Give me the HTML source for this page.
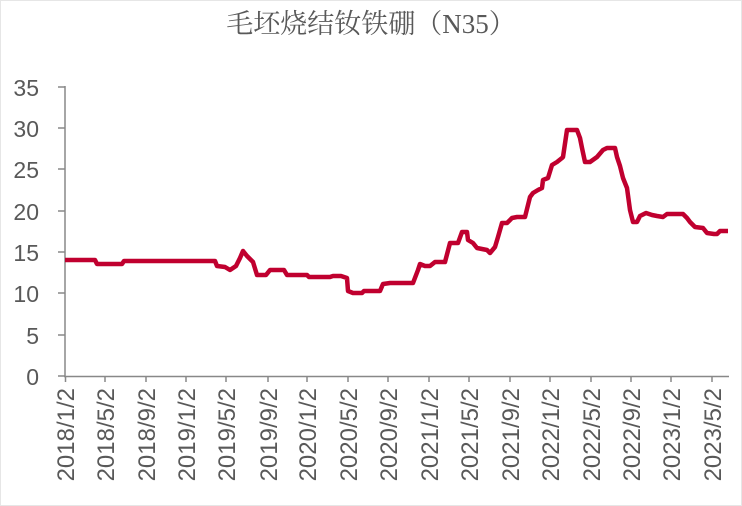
<!DOCTYPE html>
<html><head><meta charset="utf-8"><style>
html,body{margin:0;padding:0;background:#fff;}
svg{display:block;}
</style></head><body>
<svg width="742" height="506" xmlns="http://www.w3.org/2000/svg">
<rect x="0.5" y="0.5" width="741" height="505" fill="#fff" stroke="#e6e6e6"/>
<text x="371" y="33" text-anchor="middle" font-family="'Liberation Serif','Noto Serif CJK SC',serif" font-size="27" fill="#595959">毛坯烧结钕铁硼（N35）</text>
<g stroke="#888" stroke-width="1.5" fill="none">
<line x1="65" y1="86" x2="65" y2="377"/>
<line x1="64" y1="376.5" x2="729" y2="376.5"/>
<path d="M58 87H65M58 128H65M58 169H65M58 211H65M58 252H65M58 293H65M58 335H65M58 376H65"/>
<path d="M65.5 376v6M105 376v6M146 376v6M186 376v6M226 376v6M268 376v6M307 376v6M348 376v6M388 376v6M429 376v6M469 376v6M510 376v6M550 376v6M591 376v6M631 376v6M671 376v6M712 376v6"/>
</g>
<g font-family="'Liberation Sans',sans-serif" font-size="23" fill="#595959" text-anchor="end">
<text x="39" y="96">35</text><text x="39" y="137">30</text><text x="39" y="178">25</text><text x="39" y="220">20</text><text x="39" y="261">15</text><text x="39" y="302">10</text><text x="39" y="344">5</text><text x="39" y="385">0</text>
</g>
<g font-family="'Liberation Sans',sans-serif" font-size="24" fill="#595959" text-anchor="end">
<text transform="translate(74,388) rotate(-90)">2018/1/2</text>
<text transform="translate(114,388) rotate(-90)">2018/5/2</text>
<text transform="translate(155,388) rotate(-90)">2018/9/2</text>
<text transform="translate(195,388) rotate(-90)">2019/1/2</text>
<text transform="translate(235,388) rotate(-90)">2019/5/2</text>
<text transform="translate(277,388) rotate(-90)">2019/9/2</text>
<text transform="translate(316,388) rotate(-90)">2020/1/2</text>
<text transform="translate(357,388) rotate(-90)">2020/5/2</text>
<text transform="translate(397,388) rotate(-90)">2020/9/2</text>
<text transform="translate(438,388) rotate(-90)">2021/1/2</text>
<text transform="translate(478,388) rotate(-90)">2021/5/2</text>
<text transform="translate(519,388) rotate(-90)">2021/9/2</text>
<text transform="translate(559,388) rotate(-90)">2022/1/2</text>
<text transform="translate(600,388) rotate(-90)">2022/5/2</text>
<text transform="translate(640,388) rotate(-90)">2022/9/2</text>
<text transform="translate(680,388) rotate(-90)">2023/1/2</text>
<text transform="translate(721,388) rotate(-90)">2023/5/2</text>
</g>
<polyline fill="none" stroke="#c0002f" stroke-width="4.5" stroke-linejoin="round" points="
65,260 95,260 97,264 122,264 124,261 215,261 217,266 225,267 230,270 236,266 240,258 243,251 247,256 253,262 257,275 266,275 270,270 284,270 287,275 307,275 309,277 330,277 333,276 341,276 347,278 348,291 353,293 362,293 364,291 380,291 383,284 390,283 413,283 418,270 420,264 425,266 430,266 435,262 445,262 450,243 458,243 462,232 467,232 468,240 473,243 477,248 487,250 490,253 495,247 498,237 502,223 507,223 512,218 517,217 525,217 530,197 533,193 538,190 542,188 543,180 548,178 552,165 557,162 562,158 563,157 567,130 577,130 580,138 582,148 585,162 590,162 597,157 603,150 607,148 613,148 615,148 617,157 620,166 623,178 627,188 630,210 633,222 637,222 640,216 646,213 652,215 657,216 663,217 667,214 683,214 687,218 690,222 695,227 703,228 707,233 714,234 717,234 720,231 728,231"/>
</svg>
</body></html>
